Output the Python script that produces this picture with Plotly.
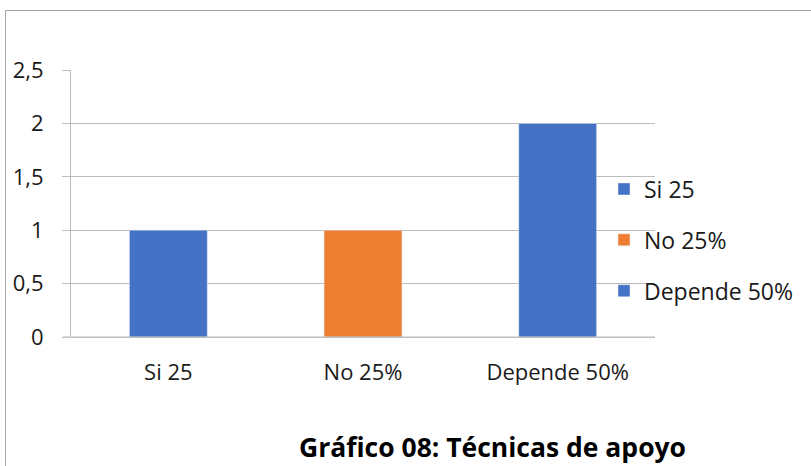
import plotly.graph_objects as go

categories = ["Si 25", "No 25%", "Depende 50%"]
values = [1, 1, 2]
colors = ["#4472C4", "#ED7D31", "#4472C4"]
y_ticks = [0, 0.5, 1, 1.5, 2, 2.5]
y_tick_labels = ["0", "0,5", "1", "1,5", "2", "2,5"]
title_text = "Gráfico 08: Técnicas de apoyo"

W, H = 811, 466
L, R, T, B = 71, 156, 70, 129
pw, ph = W - L - R, H - T - B

def px_x(px):
    return (px - L) / pw

def px_y(py):
    return (H - B - py) / ph

fig = go.Figure()
for i, (c, v, col) in enumerate(zip(categories, values, colors)):
    fig.add_trace(go.Bar(x=[c], y=[v], name=c, marker_color=col, width=0.4,
                         legendgroup=f"g{i}"))

grid = "#BDBDBD"
font = "Open Sans, Noto Sans, sans-serif"
fig.update_layout(
    width=W, height=H,
    margin=dict(l=L, r=R, t=T, b=B),
    paper_bgcolor="white", plot_bgcolor="white",
    barmode="overlay",
    separators=",.",
    font=dict(family=font, size=22, color="#1a1a1a"),
    showlegend=True,
    legend=dict(x=px_x(604), xanchor="left", y=px_y(240), yanchor="middle",
                font=dict(size=23, color="#1a1a1a"), tracegroupgap=18,
                bgcolor="rgba(0,0,0,0)", itemwidth=30),
    xaxis=dict(categoryorder="array", categoryarray=categories,
               showline=False, showgrid=False, ticks="", zeroline=False,
               ticklabelstandoff=20, tickfont=dict(size=22)),
    yaxis=dict(range=[0, 2.5], tickvals=y_ticks, ticktext=y_tick_labels,
               showgrid=True, gridcolor=grid, gridwidth=1,
               showline=True, linecolor=grid, linewidth=1,
               ticks="outside", ticklen=8, tickcolor=grid,
               zeroline=True, zerolinecolor=grid, zerolinewidth=1,
               ticklabelstandoff=14, tickfont=dict(size=22)),
    shapes=[dict(type="rect", xref="paper", yref="paper",
                 x0=px_x(5.5), x1=px_x(830), y0=px_y(480), y1=px_y(10.5),
                 line=dict(color="#A6A6A6", width=1), fillcolor="rgba(0,0,0,0)",
                 layer="below"),
            dict(type="line", xref="paper", yref="paper",
                 x0=px_x(63), x1=1, y0=0, y1=0,
                 line=dict(color=grid, width=1))],
    annotations=[dict(text=f"<b>{title_text}</b>", xref="paper", yref="paper",
                      x=px_x(492), y=px_y(447), xanchor="center", yanchor="middle",
                      showarrow=False, font=dict(size=26.5, color="black", family=font))],
)

fig.write_html("out.html", config={"displayModeBar": False},
               post_script="document.body.style.margin='0';document.body.style.padding='0';")
